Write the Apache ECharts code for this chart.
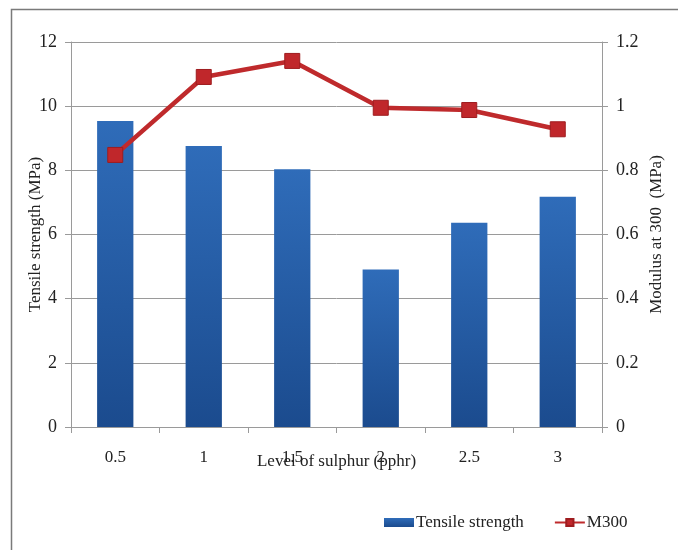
<!DOCTYPE html>
<html lang="en">
<head>
<meta charset="UTF-8">
<title>Tensile strength and M300</title>
<script src="https://cdn.jsdelivr.net/npm/echarts@6/dist/echarts.min.js"></script>
<style>
  html,body{margin:0;padding:0;background:#fff;}
  #chart{width:678px;height:550px;}
</style>
</head>
<body>
<div id="chart"></div>
<script>
// data
var sulphur = ['0.5', '1', '1.5', '2', '2.5', '3'];
var tensile = [9.54, 8.76, 8.03, 4.91, 6.37, 7.18];
var m300 = [0.848, 1.091, 1.141, 0.995, 0.988, 0.928];

var serif = 'Liberation Serif';
var gridGray = '#9a9a9a';

var chart = echarts.init(document.getElementById('chart'));

var option = {
  animation: false,
  textStyle: { fontFamily: serif, color: '#222' },
  graphic: [{
    type: 'rect',
    shape: { x: 11.5, y: 9.5, width: 700, height: 600 },
    style: { fill: 'none', stroke: '#7a7a7a', lineWidth: 1.5 },
    silent: true
  }],
  legend: {
    bottom: 14,
    left: 379,
    itemGap: 30,
    itemWidth: 30,
    itemHeight: 9,
    textStyle: { fontFamily: serif, fontSize: 17, color: '#222', padding: [0, 0, 0, -3] },
    data: [
      { name: 'Tensile strength', icon: 'rect' },
      { name: 'M300' }
    ]
  },
  grid: { left: 71, top: 42, right: 76, bottom: 123 },
  xAxis: {
    type: 'category',
    data: sulphur,
    boundaryGap: true,
    name: 'Level of sulphur (pphr)',
    nameLocation: 'middle',
    nameMoveOverlap: false,
    nameGap: 26,
    nameTextStyle: { fontFamily: serif, fontSize: 17, color: '#222' },
    axisLine: { lineStyle: { color: gridGray } },
    axisTick: { show: true, length: 6, lineStyle: { color: gridGray } },
    axisLabel: { margin: 22, fontFamily: serif, fontSize: 17, color: '#222' }
  },
  yAxis: [{
    type: 'value',
    min: 0, max: 12, interval: 2,
    name: 'Tensile strength (MPa)',
    nameLocation: 'middle',
    nameRotate: 90,
    nameMoveOverlap: false,
    nameGap: 27,
    nameTextStyle: { fontFamily: serif, fontSize: 17, color: '#222' },
    axisLine: { show: true, lineStyle: { color: gridGray } },
    axisTick: { show: true, length: 6, lineStyle: { color: gridGray } },
    axisLabel: { margin: 14, fontFamily: serif, fontSize: 18, color: '#222' },
    splitLine: { lineStyle: { color: gridGray, width: 1 } }
  }, {
    type: 'value',
    min: 0, max: 1.2, interval: 0.2,
    name: 'Modulus at 300  (MPa)',
    nameLocation: 'middle',
    nameRotate: 90,
    nameMoveOverlap: false,
    nameGap: 46,
    nameTextStyle: { fontFamily: serif, fontSize: 17, color: '#222' },
    axisLine: { show: true, lineStyle: { color: gridGray } },
    axisTick: { show: true, length: 6, lineStyle: { color: gridGray } },
    axisLabel: { margin: 14, fontFamily: serif, fontSize: 18, color: '#222' },
    splitLine: { show: false }
  }],
  series: [{
    name: 'Tensile strength',
    type: 'bar',
    yAxisIndex: 0,
    barWidth: '41%',
    data: tensile,
    itemStyle: {
      color: new echarts.graphic.LinearGradient(0, 0, 0, 1, [
        { offset: 0, color: '#2f6cb9' },
        { offset: 1, color: '#1b4b8e' }
      ])
    }
  }, {
    name: 'M300',
    type: 'line',
    yAxisIndex: 1,
    data: m300,
    symbol: 'rect',
    symbolSize: 15,
    lineStyle: { color: '#bf2a2c', width: 4.5 },
    itemStyle: { color: '#c0272b', borderColor: '#9e1c1f', borderWidth: 1 }
  }]
};

chart.setOption(option);
</script>
</body>
</html>
